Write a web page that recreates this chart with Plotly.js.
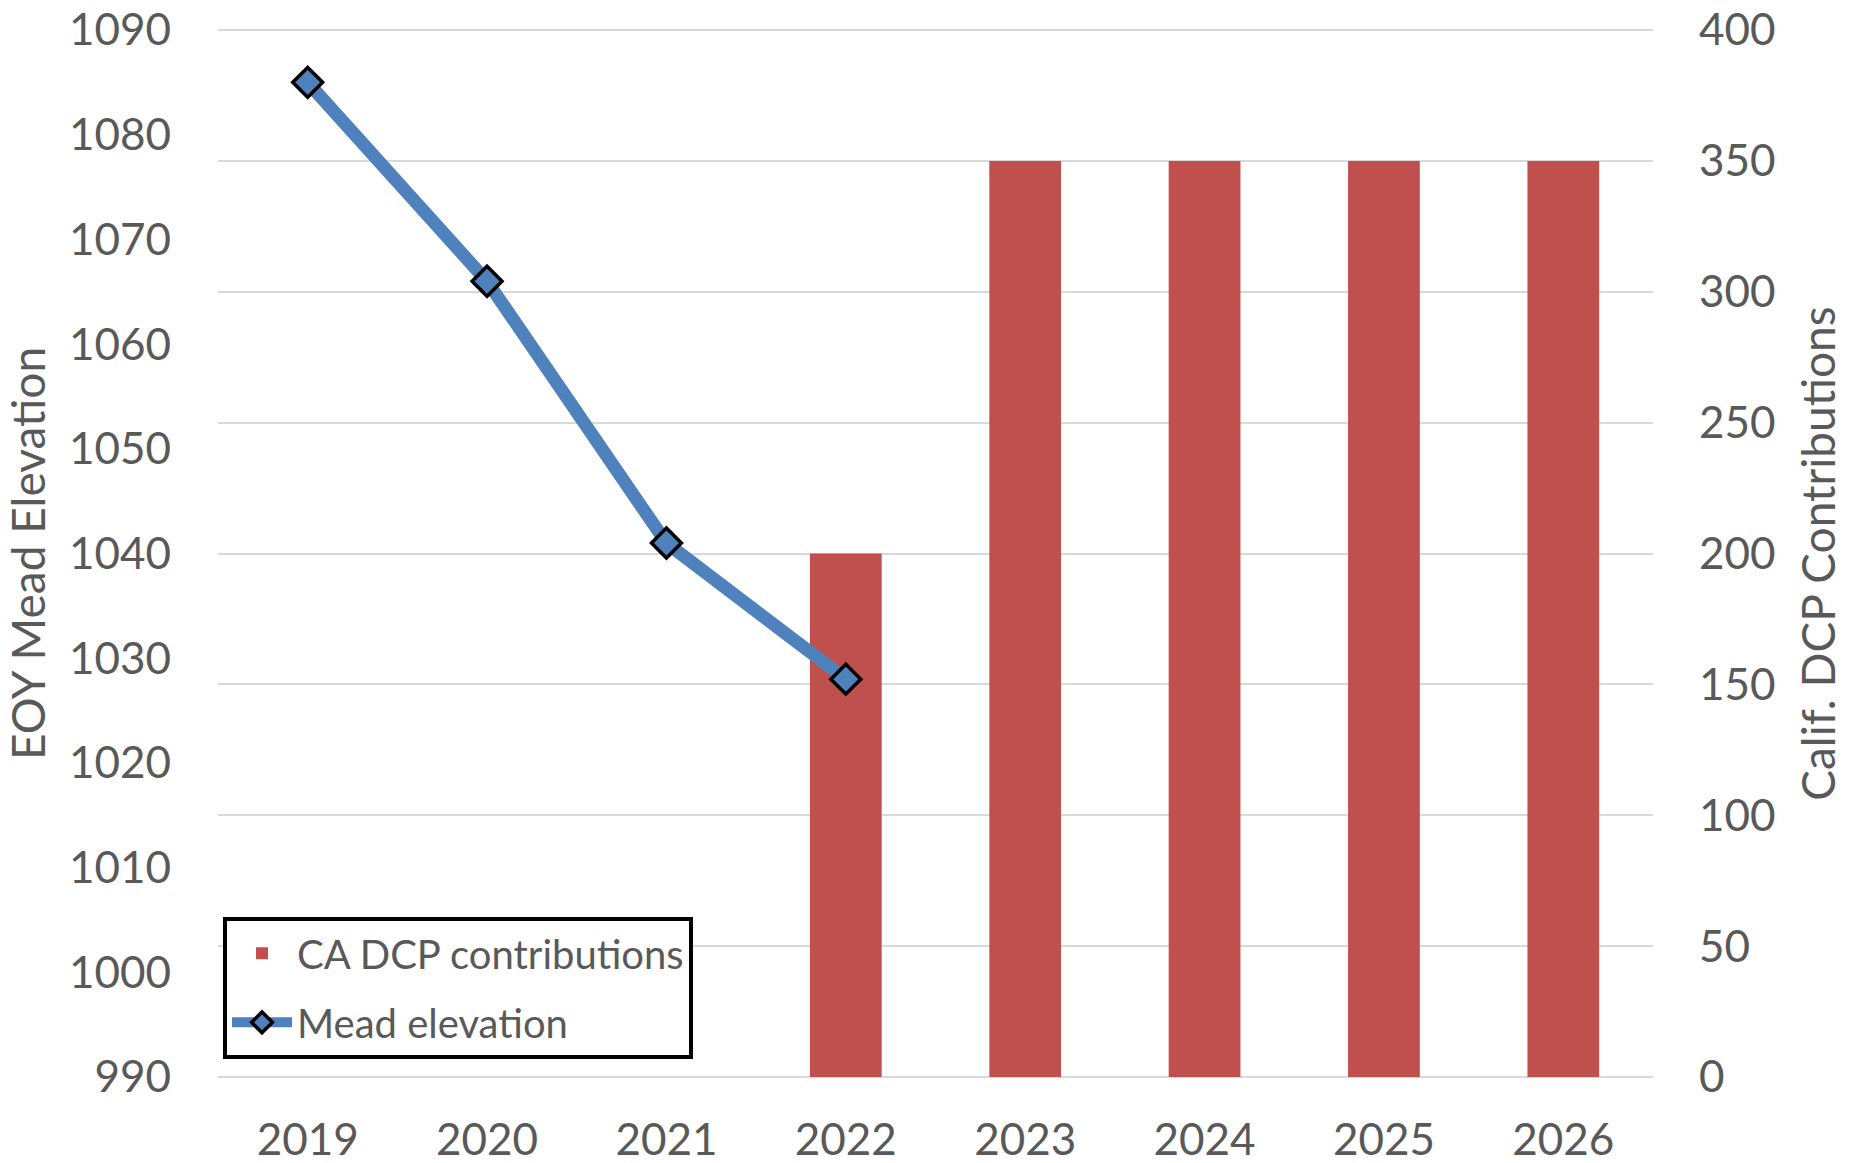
<!DOCTYPE html>
<html>
<head>
<meta charset="utf-8">
<script src="https://cdn.plot.ly/plotly-3.0.1.min.js"></script>
<style>html,body{margin:0;padding:0;background:#fff;}#chart{width:1858px;height:1163px;}</style>
</head>
<body>
<div id="chart"></div>
<script>
const years = ["2019", "2020", "2021", "2022", "2023", "2024", "2025", "2026"];
const caContributions = [null, null, null, 200, 350, 350, 350, 350];
const meadYears = ["2019", "2020", "2021", "2022"];
const meadElevation = [1085, 1066, 1041, 1028];
const rightTicks = [0, 50, 100, 150, 200, 250, 300, 350, 400];
const leftTicks = [990, 1000, 1010, 1020, 1030, 1040, 1050, 1060, 1070, 1080, 1090];

const FONT = "Lato, Carlito, Calibri, sans-serif";
const GREY = "#595959";

const traces = [
  {
    type: "bar",
    name: "CA DCP contributions",
    legendgroup: "a",
    x: years,
    y: caContributions,
    yaxis: "y",
    marker: {color: "#c0504d"}
  },
  {
    type: "scatter",
    mode: "lines+markers",
    name: "Mead elevation",
    legendgroup: "b",
    x: meadYears,
    y: meadElevation,
    yaxis: "y2",
    line: {color: "#4f81bd", width: 13},
    marker: {symbol: "diamond", size: 23, color: "#4f81bd", line: {color: "#000", width: 3.5}}
  }
];

const layout = {
  width: 1858,
  height: 1163,
  paper_bgcolor: "#fff",
  plot_bgcolor: "#fff",
  margin: {l: 218, r: 205, t: 30, b: 86},
  font: {family: FONT, color: GREY, size: 44},
  bargap: 0.6,
  showlegend: true,
  legend: {
    x: 0.0035, y: 0.153, xanchor: "left", yanchor: "top",
    bgcolor: "#fff", bordercolor: "#000", borderwidth: 4,
    font: {family: FONT, size: 40, color: GREY},
    traceorder: "grouped",
    tracegroupgap: 14,
    itemwidth: 60
  },
  shapes: [
    {type: "line", xref: "paper", yref: "paper", x0: 0, x1: 1, y0: 1, y1: 1,
     line: {color: "#d9d9d9", width: 2}, layer: "below"},
    {type: "line", xref: "paper", yref: "paper", x0: 0, x1: 1, y0: 0, y1: 0,
     line: {color: "#d9d9d9", width: 2}, layer: "below"}
  ],
  xaxis: {
    type: "category",
    categoryorder: "array",
    categoryarray: years,
    range: [-0.5, 7.5],
    showgrid: false,
    zeroline: false,
    showline: false,
    ticks: "",
    ticklabelstandoff: 33,
    tickfont: {family: FONT, size: 44, color: GREY}
  },
  yaxis: {
    side: "right",
    range: [0, 400],
    tickmode: "array",
    tickvals: rightTicks,
    showgrid: true,
    gridcolor: "#d9d9d9",
    gridwidth: 2,
    zeroline: false,
    showline: false,
    ticks: "",
    ticklabelstandoff: 45,
    ticklabeloverflow: "allow",
    tickfont: {family: FONT, size: 44, color: GREY},
    title: {text: "Calif. DCP Contributions", font: {family: FONT, size: 46, color: GREY}, standoff: 28}
  },
  yaxis2: {
    overlaying: "y",
    side: "left",
    range: [990, 1090],
    tickmode: "array",
    tickvals: leftTicks,
    showgrid: false,
    zeroline: false,
    showline: false,
    ticks: "",
    ticklabelstandoff: 46,
    ticklabeloverflow: "allow",
    tickfont: {family: FONT, size: 44, color: GREY},
    title: {text: "EOY Mead Elevation", font: {family: FONT, size: 46, color: GREY}, standoff: 10}
  }
};

Plotly.newPlot("chart", traces, layout, {displayModeBar: false, staticPlot: true});
</script>
</body>
</html>
